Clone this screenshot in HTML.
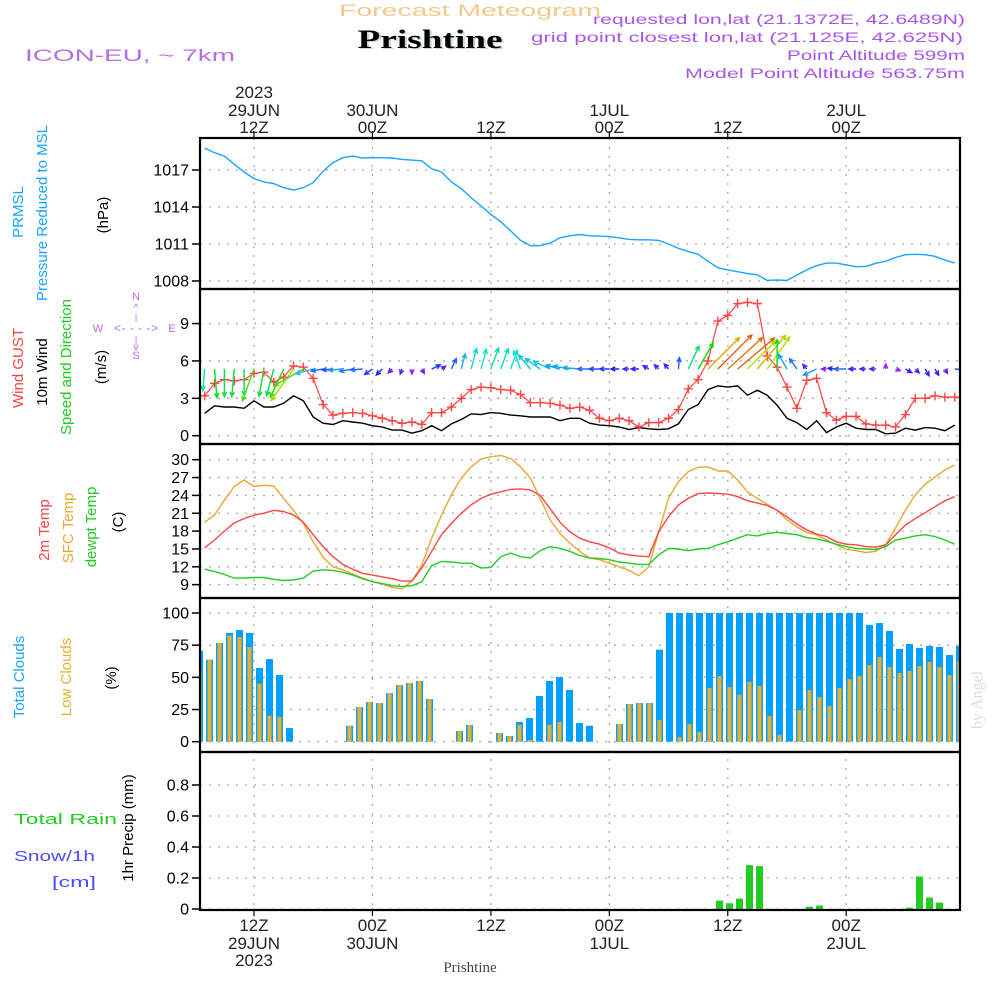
<!DOCTYPE html>
<html><head><meta charset="utf-8"><title>Forecast Meteogram Prishtine</title>
<style>
html,body{margin:0;padding:0;background:#fff;}
svg{display:block;font-family:"Liberation Sans",sans-serif;}
</style></head>
<body>
<svg id="chart" width="1000" height="1000" viewBox="0 0 1000 1000" xmlns="http://www.w3.org/2000/svg">
<g id="header">
<text x="470" y="16" font-size="17" fill="#f2c98a" text-anchor="middle" textLength="262" lengthAdjust="spacingAndGlyphs">Forecast Meteogram</text>
<text x="432" y="49" font-size="26" font-weight="bold" font-family="Liberation Serif,serif" fill="#c9dcc9" text-anchor="middle" textLength="145" lengthAdjust="spacingAndGlyphs">Prishtine</text>
<text x="430" y="48" font-size="26" font-weight="bold" font-family="Liberation Serif,serif" fill="#000" text-anchor="middle" textLength="145" lengthAdjust="spacingAndGlyphs">Prishtine</text>
<text x="25" y="61" font-size="17" fill="#b46ee6" textLength="210" lengthAdjust="spacingAndGlyphs">ICON-EU, ~ 7km</text>
<text x="965" y="24" font-size="14" fill="#a855e8" text-anchor="end" textLength="372" lengthAdjust="spacingAndGlyphs">requested lon,lat (21.1372E, 42.6489N)</text>
<text x="963" y="42" font-size="14" fill="#a855e8" text-anchor="end" textLength="432" lengthAdjust="spacingAndGlyphs">grid point closest lon,lat (21.125E, 42.625N)</text>
<text x="965" y="60" font-size="14" fill="#a855e8" text-anchor="end" textLength="178" lengthAdjust="spacingAndGlyphs">Point Altitude 599m</text>
<text x="965" y="78" font-size="14" fill="#a855e8" text-anchor="end" textLength="280" lengthAdjust="spacingAndGlyphs">Model Point Altitude 563.75m</text>
</g>
<g id="leftlabels" font-size="15">
<text transform="translate(23,212) rotate(-90)" text-anchor="middle" fill="#1aa3ff">PRMSL</text>
<text transform="translate(47,213) rotate(-90)" text-anchor="middle" fill="#1aa3ff">Pressure Reduced to MSL</text>
<text transform="translate(108,215) rotate(-90)" text-anchor="middle" fill="#000">(hPa)</text>
<text transform="translate(23,368) rotate(-90)" text-anchor="middle" fill="#ff4040">Wind GUST</text>
<text transform="translate(47,372) rotate(-90)" text-anchor="middle" fill="#000">10m Wind</text>
<text transform="translate(71,367) rotate(-90)" text-anchor="middle" fill="#22cc22">Speed and Direction</text>
<text transform="translate(106,367) rotate(-90)" text-anchor="middle" fill="#000">(m/s)</text>
<g fill="#b46ee6" font-size="11" text-anchor="middle">
<text x="98" y="332">W</text><text x="172" y="332">E</text><text x="136" y="300">N</text><text x="136" y="359">S</text>
<text x="136" y="332" font-size="12" textLength="44" lengthAdjust="spacing">&lt;- - - -&gt;</text>
<text x="136" y="311" font-size="10">^</text><text x="136" y="320" font-size="9">|</text><text x="136" y="343" font-size="9">|</text><text x="136" y="350" font-size="10">v</text>
</g>
<text transform="translate(49,530) rotate(-90)" text-anchor="middle" fill="#ff4444">2m Temp</text>
<text transform="translate(73,528) rotate(-90)" text-anchor="middle" fill="#e8a830">SFC Temp</text>
<text transform="translate(96,527) rotate(-90)" text-anchor="middle" fill="#22cc22">dewpt Temp</text>
<text transform="translate(123,522) rotate(-90)" text-anchor="middle" fill="#000">(C)</text>
<text transform="translate(24,677) rotate(-90)" text-anchor="middle" fill="#1aa3ff">Total Clouds</text>
<text transform="translate(71,677) rotate(-90)" text-anchor="middle" fill="#e8b030">Low Clouds</text>
<text transform="translate(116,678) rotate(-90)" text-anchor="middle" fill="#000">(%)</text>
<text x="14" y="824" fill="#22cc22" textLength="103" lengthAdjust="spacingAndGlyphs">Total    Rain</text>
<text x="14" y="861" fill="#4a4aff" textLength="81" lengthAdjust="spacingAndGlyphs">Snow/1h</text>
<text x="52" y="887" fill="#4a4aff" textLength="44" lengthAdjust="spacingAndGlyphs">[cm]</text>
<text transform="translate(133,828) rotate(-90)" text-anchor="middle" fill="#000">1hr Precip (mm)</text>
</g>
<text transform="translate(982,700) rotate(-90)" font-family="Liberation Serif,serif" font-size="16" fill="#d8e0d8" text-anchor="middle">by Angel</text>
<text x="470" y="972" font-family="Liberation Serif,serif" font-size="15" fill="#444" text-anchor="middle">Prishtine</text>
<g id="plot"></g>
</svg>
<script>
// hours since 00Z 29JUN, hourly 7..83
const hours=[];for(let h=7;h<=83;h++)hours.push(h);
const pressure=[1018.78,1018.4,1018.13,1017.46,1016.84,1016.3,1016.03,1015.9,1015.57,1015.38,
1015.57,1015.98,1016.9,1017.6,1018.0,1018.13,1017.97,1018.0,1018.0,1017.97,
1017.86,1017.8,1017.75,1017.1,1016.84,1016.03,1015.49,1014.76,1014.09,1013.4,
1012.8,1012.07,1011.3,1010.86,1010.86,1011.07,1011.5,1011.66,1011.77,1011.66,
1011.64,1011.6,1011.5,1011.37,1011.34,1011.34,1011.29,1011.0,1010.64,1010.4,
1010.16,1009.6,1009.08,1008.9,1008.75,1008.6,1008.5,1008.05,1008.08,1008.05,
1008.48,1008.9,1009.24,1009.45,1009.45,1009.3,1009.16,1009.18,1009.43,1009.6,
1009.9,1010.13,1010.16,1010.13,1010.0,1009.7,1009.45];
const gust=[3.2,4.2,4.5,4.4,4.5,5.0,5.1,4.3,4.7,5.6,
5.5,4.6,2.5,1.65,1.8,1.85,1.8,1.6,1.4,1.2,
1.0,1.1,0.9,1.85,1.85,2.3,3.0,3.7,3.9,3.85,
3.7,3.65,3.3,2.65,2.65,2.6,2.45,2.2,2.3,2.05,
1.4,1.2,1.4,1.2,0.7,1.05,1.05,1.4,2.1,3.75,
4.5,6.0,9.2,9.65,10.6,10.7,10.6,6.4,5.5,3.9,
2.2,4.45,4.6,1.85,1.25,1.55,1.55,0.95,0.85,0.85,
0.7,1.7,3.0,3.0,3.2,3.1,3.1];
const wind=[1.8,2.4,2.3,2.3,2.2,2.8,2.3,2.3,2.6,3.2,
2.8,1.5,1.0,0.9,1.2,1.1,1.0,0.8,0.7,0.45,
0.45,0.2,0.4,0.8,0.4,0.95,1.3,1.75,1.7,1.85,
1.8,1.65,1.6,1.5,1.5,1.5,1.2,1.4,1.4,1.0,
0.85,0.8,0.7,0.5,0.65,0.55,0.5,0.55,0.95,2.1,
2.5,3.7,4.0,3.9,4.0,3.25,3.65,3.25,2.45,1.4,
1.05,0.5,1.2,0.25,0.7,1.0,0.6,0.5,0.5,0.15,
0.2,0.6,0.45,0.65,0.6,0.4,0.85];
const windDir=[185,175,180,185,180,200,190,195,205,215,
240,255,260,265,265,260,265,235,225,225,
200,180,150,65,55,25,15,15,15,20,
20,20,340,320,305,295,285,280,275,270,
270,270,270,270,270,300,315,320,5,25,
30,45,45,48,50,45,40,35,0,330,
325,320,245,270,275,270,270,270,270,0,
110,120,135,150,150,150,95];
const temp2m=[15.2,16.5,18.0,19.4,20.1,20.7,21.0,21.5,21.3,20.7,
19.5,17.4,15.4,13.7,12.4,11.6,10.9,10.6,10.3,10.0,
9.6,9.6,11.8,14.6,17.4,19.3,21.0,22.4,23.5,24.2,
24.6,25.0,25.1,24.9,24.0,21.8,19.5,17.9,16.8,16.2,
15.8,15.2,14.3,14.0,13.8,13.7,17.9,20.4,22.4,23.5,
24.3,24.4,24.3,24.2,23.8,23.1,22.7,22.3,21.5,20.4,
19.2,18.2,17.5,17.1,16.2,15.8,15.7,15.4,15.3,15.7,
17.4,19.0,20.1,21.1,22.1,23.1,23.8];
const tempSfc=[19.5,20.7,23.2,25.5,26.6,25.5,25.7,25.6,23.5,21.5,
19.3,16.2,13.6,12.0,11.5,10.8,10.1,9.5,9.1,8.5,
8.3,9.6,12.3,16.8,20.7,24.1,26.9,28.8,30.1,30.5,
30.7,30.2,28.8,26.9,23.5,19.9,17.6,16.0,14.6,13.5,
13.2,12.6,12.0,11.4,10.5,12.0,17.9,23.5,26.3,28.0,
28.7,28.8,28.1,28.1,26.6,24.6,23.5,22.5,21.5,19.9,
18.7,17.8,17.4,16.5,15.7,14.9,14.7,14.4,14.6,15.7,
18.5,21.5,24.1,25.9,27.1,28.3,29.1];
const dewpt=[11.6,11.2,10.7,10.1,10.1,10.2,10.2,9.9,9.7,9.8,
10.1,11.3,11.5,11.4,11.1,10.6,10.0,9.5,9.2,8.8,
8.7,8.8,9.5,12.2,12.9,12.8,12.6,12.6,11.8,11.9,
13.7,14.3,13.7,13.5,14.7,15.4,15.1,14.6,13.9,13.5,
13.4,13.2,12.8,12.6,12.4,12.4,14.0,15.1,15.0,14.7,
15.0,15.1,15.7,16.2,16.8,17.4,17.2,17.6,17.8,17.6,
17.4,16.9,16.7,16.3,15.8,15.4,15.1,15.0,14.9,15.4,
16.5,16.8,17.2,17.4,17.1,16.5,15.8];
const totalClouds=[70.7,63.7,76.7,84.5,86.8,84.5,57.3,64.2,51.8,10.6,
0,0,0,0,0,12.4,26.9,30.8,30,37.8,
44,45.6,47.2,33.2,0,0,8.3,13,0,0,
6.7,4.4,15.3,18.4,35.5,47.2,50.3,40.2,14.5,12.4,
0,0,13.7,29.3,30,30,71.5,100,100,100,
100,100,100,100,100,100,100,100,100,100,
100,100,100,100,100,100,100,90.7,92.2,86,
72,75.9,72.8,74.4,73.6,67.4,74.4];
const lowClouds=[56.7,63.7,76.7,82.4,81.3,73.6,45,20.2,19.2,0,
0,0,0,0,0,12.4,26.9,30.8,30,37.8,
44,45.6,47.2,33.2,0,0,8.3,13,0,0,
6.7,4.4,13,1.3,0,13.2,15.3,0,0,0,
0,0,13.7,29.3,30,30,16.8,0,3.6,13.7,
7.5,41.7,51,42.5,36.3,46.4,43.3,20,5.2,0,
24.6,40.2,34.7,27.7,41.7,48.7,51,59.6,65.8,58,
53.4,54.9,58.8,61.9,58,51.8,62.7];
const precip=[0,0,0,0,0,0,0,0,0,0,
0,0,0,0,0,0,0,0,0,0,
0,0,0,0,0,0,0,0,0,0,
0,0,0,0,0,0,0,0,0,0,
0,0,0,0,0,0,0,0,0,0,
0,0,0.054,0.037,0.067,0.283,0.276,0,0,0,
0,0.015,0.022,0,0,0,0,0,0,0,
0,0.009,0.21,0.074,0.041,0,0];
const pTicks=[1008,1011,1014,1017];
const wTicks=[0,3,6,9];
const tTicks=[9,12,15,18,21,24,27,30];
const cTicks=[0,25,50,75,100];
const rTicks=[0,0.2,0.4,0.6,0.8];
const rTickLabels=["0","0.2","0.4","0.6","0.8"];
const timeTicks=[12,24,36,48,60,72];
const topLabels=[["2023","29JUN","12Z"],["","30JUN","00Z"],["","","12Z"],["","1JUL","00Z"],["","","12Z"],["","2JUL","00Z"]];
const botLabels=[["12Z","29JUN","2023"],["00Z","30JUN",""],["12Z","",""],["00Z","1JUL",""],["12Z","",""],["00Z","2JUL",""]];

const X0=200,X1=960;
const x=h=>254+(h-12)*9.87;
const xb=h=>209.5+(h-8)*10;
const yP=v=>170+(1017-v)*12.33;
const yW=v=>435.7-v*12.46;
const yT=v=>459.7+(30-v)*5.95;
const yC=v=>741.7-v*1.287;
const yR=v=>909-v*155;
const panels=[[138,289,'pressure'],[289,444,'wind'],[444,598,'temperature'],[598,752,'clouds'],[752,910,'precip']];

const NS="http://www.w3.org/2000/svg";
const plot=document.getElementById('plot');
function mk(tag,attrs,parent){const e=document.createElementNS(NS,tag);for(const k in attrs)e.setAttribute(k,attrs[k]);(parent||plot).appendChild(e);return e;}

const defs=mk('defs',{});
const cp=mk('clipPath',{id:'clip'},defs);mk('rect',{x:X0,y:138,width:X1-X0,height:772},cp);

function hgrid(ticks,yf,labels,name){
  ticks.forEach((t,i)=>{
    const y=yf(t);
    const g=mk('line',{x1:X0,x2:X1,y1:y,y2:y,stroke:'#aaa','stroke-width':1.3,'stroke-dasharray':'2,7'});
    
    
    const tk=mk('line',{x1:192,x2:X0,y1:y,y2:y,stroke:'#000','stroke-width':1.5});
    
    
    const tx=mk('text',{x:189,y:y+5.5,'font-size':16,'text-anchor':'end',fill:'#000'});
    tx.textContent=labels?labels[i]:String(t);
    
    
  });
}
hgrid(pTicks,yP,null,'pressure-y');
hgrid(wTicks,yW,null,'wind-y');
hgrid(tTicks,yT,null,'temp-y');
hgrid(cTicks,yC,null,'cloud-y');
hgrid(rTicks,yR,rTickLabels,'precip-y');
timeTicks.forEach((h,i)=>{
  const xx=x(h);
  const v=mk('line',{x1:xx,x2:xx,y1:138,y2:910,stroke:'#aaa','stroke-width':1.3,'stroke-dasharray':'2,7'});
  
  
  const t1=mk('line',{x1:xx,x2:xx,y1:131,y2:138,stroke:'#000','stroke-width':1.2});
  
  
  const t2=mk('line',{x1:xx,x2:xx,y1:910,y2:916,stroke:'#000','stroke-width':1.2});
  
  
  const ys=[92,110,127];
  topLabels[i].forEach((s,j)=>{if(!s)return;
    const t=mk('text',{x:xx,y:ys[j]+6,'font-size':17,'text-anchor':'middle',fill:'#222'});
    t.textContent=s;
    
    
  });
  const yb=[925,943,960];
  botLabels[i].forEach((s,j)=>{if(!s)return;
    const t=mk('text',{x:xx,y:yb[j]+6,'font-size':17,'text-anchor':'middle',fill:'#222'});
    t.textContent=s;
    
    
  });
});

const data=mk('g',{'clip-path':'url(#clip)'});


function line(vals,yf,color,name,w){
  const d=vals.map((v,i)=>(i?'L':'M')+x(hours[i]).toFixed(1)+','+yf(v).toFixed(1)).join('');
  const p=mk('path',{d:d,fill:'none',stroke:color,'stroke-width':w||1.4},data);
  
  
}
line(pressure,yP,'#1aa3ff','pressure-line');
hours.forEach((h,i)=>{
  const xc=xb(h);
  if(totalClouds[i]>0){
    const b=mk('rect',{x:xc-3.5,y:yC(totalClouds[i]),width:7,height:yC(0)-yC(totalClouds[i]),fill:'#00a0ff'},data);
    
    
  }
  if(lowClouds[i]>0){
    const b=mk('rect',{x:xc-2,y:yC(lowClouds[i]),width:4,height:yC(0)-yC(lowClouds[i]),fill:'#e8b030'},data);
    
    
  }
  if(precip[i]>0){
    const b=mk('rect',{x:xc-3.5,y:yR(precip[i]),width:7,height:yR(0)-yR(precip[i]),fill:'#22cc22'},data);
    
    
  }
});
line(tempSfc,yT,'#e8a830','sfc-temp-line');
line(temp2m,yT,'#ff4444','temp-2m-line');
line(dewpt,yT,'#22cc22','dewpoint-line');
line(wind,yW,'#000','wind-10m-line');
line(gust,yW,'#ff4444','wind-gust-line',1.2);
hours.forEach((h,i)=>{
  const xx=x(h),yy=yW(gust[i]);
  const m=mk('path',{d:`M${xx-4.5},${yy}H${xx+4.5}M${xx},${yy-4.5}V${yy+4.5}`,stroke:'#ff4444','stroke-width':1.4},data);
  
  
});
const baseY=369;
hours.forEach((h,i)=>{
  const v=wind[i];
  const hue=Math.max(15,Math.min(275,285-65*v));
  const col=`hsl(${hue},95%,${hue>200?55:45}%)`;
  const L=Math.max(5,12*v);
  const a=windDir[i]*Math.PI/180;
  const x0=x(h),y0=baseY;
  const x1=x0+L*Math.sin(a),y1=y0-L*Math.cos(a);
  const ang=Math.atan2(y1-y0,x1-x0);
  const hl=5;
  const hx1=x1-hl*Math.cos(ang-0.45),hy1=y1-hl*Math.sin(ang-0.45);
  const hx2=x1-hl*Math.cos(ang+0.45),hy2=y1-hl*Math.sin(ang+0.45);
  const p=mk('path',{d:`M${x0},${y0}L${x1},${y1}M${hx1},${hy1}L${x1},${y1}L${hx2},${hy2}`,stroke:col,'stroke-width':1.4,fill:'none'},data);
  
  
});
panels.forEach(p=>{
  const r=mk('rect',{x:X0,y:p[0],width:X1-X0,height:p[1]-p[0],fill:'none',stroke:'#000','stroke-width':2.2});
  
  
});
</script>
</body></html>
